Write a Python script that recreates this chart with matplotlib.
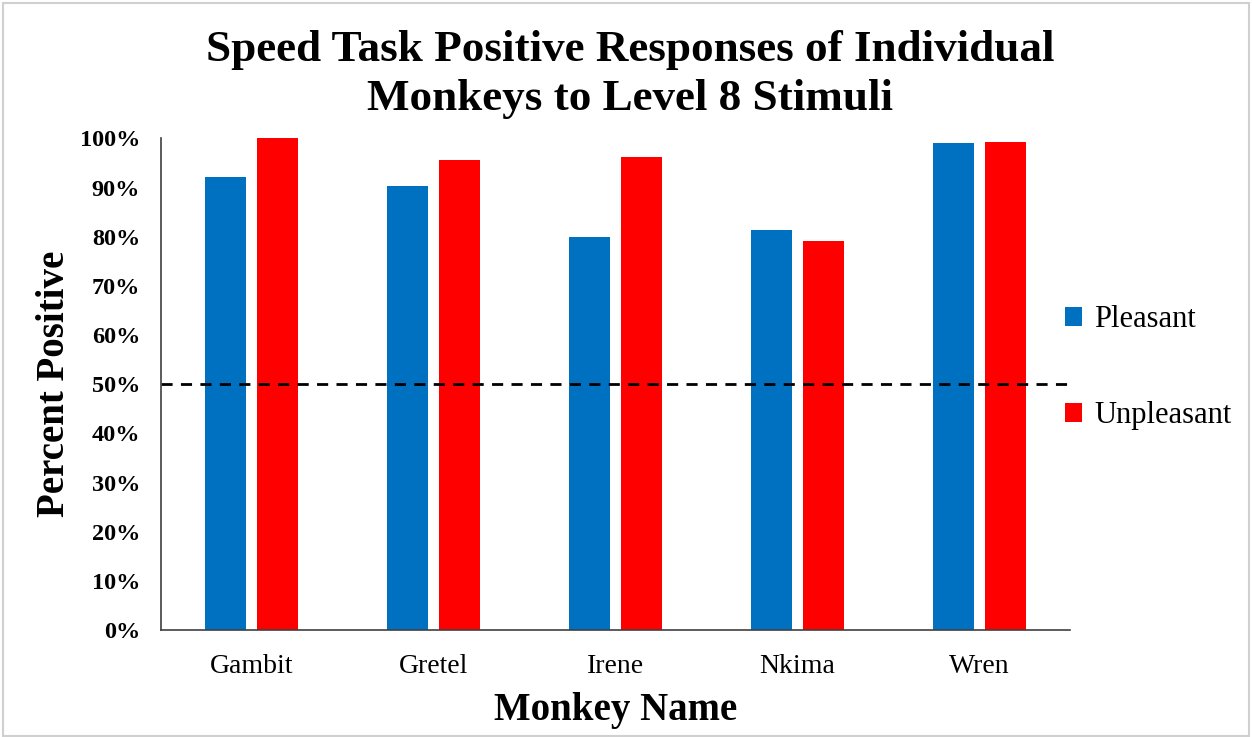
import matplotlib.pyplot as plt
import numpy as np
from matplotlib.patches import Rectangle
from matplotlib.ticker import PercentFormatter

monkeys = ["Gambit", "Gretel", "Irene", "Nkima", "Wren"]
pleasant = [0.921, 0.903, 0.800, 0.813, 0.990]
unpleasant = [1.000, 0.956, 0.962, 0.791, 0.992]

plt.rcParams['font.family'] = ['Liberation Serif', 'DejaVu Serif']

fig = plt.figure(figsize=(12.52, 7.37), dpi=100)
ax = fig.add_axes([0.1286, 0.1452, 0.7260, 0.6669])

x = np.arange(len(monkeys))
w = 0.226
ax.bar(x - 0.143, pleasant, w, color="#0070C0", label="Pleasant")
ax.bar(x + 0.143, unpleasant, w, color="#FF0000", label="Unpleasant")
ax.axhline(0.5, color="black", linestyle=(0, (4, 3)), linewidth=2)

ax.set_xlim(-0.5, len(monkeys) - 0.5)
ax.set_ylim(0, 1)
ax.set_yticks(np.arange(0, 1.01, 0.1))
ax.yaxis.set_major_formatter(PercentFormatter(1.0, decimals=0))
ax.set_xticks(x)
ax.set_xticklabels(monkeys, fontsize=20)
for lab in ax.get_yticklabels():
    lab.set_fontweight("bold")
    lab.set_fontsize(17.5)
ax.tick_params(axis="both", length=0)
ax.tick_params(axis="y", pad=15)
ax.tick_params(axis="x", pad=17)

for s in ["top", "right"]:
    ax.spines[s].set_visible(False)
for s in ["left", "bottom"]:
    ax.spines[s].set_color("#404040")
    ax.spines[s].set_linewidth(1.2)

ax.set_xlabel("Monkey Name", fontsize=28, fontweight="bold", labelpad=10)
ax.set_ylabel("Percent Positive", fontsize=28, fontweight="bold", labelpad=5)

fig.text(0.503, 0.899, "Speed Task Positive Responses of Individual\nMonkeys to Level 8 Stimuli",
         ha="center", va="center", fontsize=32.5, fontweight="bold", linespacing=1.3)

fig.legend(loc="center left", bbox_to_anchor=(0.829, 0.501), frameon=False,
           fontsize=22, handlelength=0.55, handleheight=0.55, handletextpad=0.4,
           labelspacing=2.2)

fig.patches.append(Rectangle((0.002, 0.002), 0.996, 0.994, transform=fig.transFigure,
                             fill=False, edgecolor="#d0d0d0", linewidth=1.5))

fig.savefig("out.png", dpi=100)
